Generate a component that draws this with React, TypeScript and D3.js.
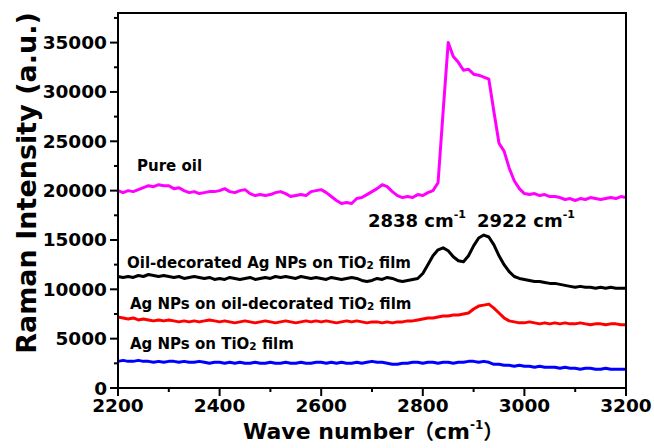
import React from "react";
import * as d3 from "d3";

// Wavenumber sampling grid (cm^-1)
const WAVENUMBERS: number[] = d3.range(2200, 3201, 10);

// Series values (a.u.), one per wavenumber
const PURE_OIL: number[] = [
  20000, 19800, 20000, 19900, 20100, 20300, 20500, 20400, 20600, 20500,
  20500, 20200, 20300, 20000, 19800, 19900, 19700, 19800, 19900, 19900,
  20000, 20200, 19900, 19800, 20000, 20100, 19700, 19500, 19600, 19500,
  19600, 19800, 19900, 19700, 19400, 19500, 19600, 19500, 19900, 20000,
  20100, 19800, 19400, 19000, 18700, 18800, 18700, 19200, 19300, 19600,
  19900, 20200, 20600, 20400, 19900, 19500, 19300, 19400, 19300, 19600,
  19500, 19800, 20000, 20800, 28000, 35000, 33600, 33000, 32200, 32300,
  31800, 31700, 31500, 31300, 28000, 24800, 24000, 22300, 21000, 20200,
  19700, 19600, 19700, 19500, 19600, 19400, 19400, 19300, 19100, 19200,
  19000, 19200, 19100, 19300, 19200, 19100, 19200, 19300, 19200, 19400,
  19300,
];

const OIL_AG_ON_TIO2: number[] = [
  11300, 11200, 11300, 11200, 11400, 11300, 11500, 11400, 11300, 11400,
  11300, 11200, 11300, 11100, 11200, 11300, 11200, 11100, 11200, 11000,
  11100, 11000, 11200, 11100, 11000, 11100, 11200, 11000, 11100, 11200,
  11100, 11300, 11200, 11300, 11200, 11100, 11300, 11200, 11100, 11200,
  11100, 11000, 11200, 11100, 11000, 11100, 11200, 11100, 10900, 10800,
  10900, 11100, 11000, 11200, 11100, 10900, 10800, 10900, 11000, 11100,
  11600, 12500, 13400, 14000, 14200, 13900, 13300, 12900, 12800, 13400,
  14400, 15200, 15500, 15300, 14500, 13400, 12500, 11800, 11300, 11100,
  11000, 10900, 10800, 10800, 10700, 10600, 10600, 10500, 10400, 10300,
  10200, 10300, 10200, 10200, 10100, 10200, 10100, 10200, 10100, 10100,
  10100,
];

const AG_ON_OIL_TIO2: number[] = [
  7200, 7100, 7000, 7100, 6900, 7000, 6900, 6800, 6900, 6800,
  6900, 6800, 6700, 6800, 6700, 6800, 6700, 6800, 6900, 6800,
  6700, 6800, 6700, 6600, 6700, 6800, 6700, 6600, 6700, 6800,
  6700, 6600, 6700, 6800, 6700, 6600, 6700, 6800, 6700, 6800,
  6700, 6800, 6700, 6600, 6700, 6800, 6700, 6800, 6700, 6600,
  6700, 6700, 6600, 6700, 6600, 6700, 6700, 6800, 6800, 6900,
  7000, 7100, 7100, 7200, 7300, 7300, 7400, 7400, 7500, 7600,
  8000, 8300, 8400, 8500, 8100, 7600, 7100, 6800, 6700, 6600,
  6600, 6700, 6600, 6500, 6600, 6500, 6600, 6500, 6600, 6500,
  6500, 6600, 6500, 6400, 6500, 6500, 6400, 6500, 6500, 6400,
  6400,
];

const AG_ON_TIO2: number[] = [
  2700, 2800, 2700, 2700, 2800, 2700, 2700, 2600, 2700, 2600,
  2700, 2700, 2600, 2700, 2600, 2600, 2700, 2600, 2500, 2600,
  2600, 2500, 2600, 2500, 2600, 2500, 2500, 2600, 2500, 2500,
  2600, 2500, 2500, 2600, 2500, 2500, 2600, 2500, 2500, 2600,
  2600, 2500, 2600, 2500, 2600, 2500, 2500, 2600, 2500, 2600,
  2700, 2600, 2600, 2500, 2400, 2400, 2500, 2500, 2600, 2600,
  2500, 2600, 2600, 2500, 2600, 2600, 2500, 2600, 2600, 2700,
  2700, 2600, 2700, 2600, 2400, 2400, 2300, 2300, 2200, 2300,
  2200, 2200, 2100, 2200, 2100, 2100, 2100, 2000, 2100, 2000,
  2000, 1900, 2000, 2000, 1900, 1900, 2000, 1900, 1900, 1900,
  1900,
];

const X_TICKS: number[] = [2200, 2400, 2600, 2800, 3000, 3200];
const X_MINOR: number[] = [2300, 2500, 2700, 2900, 3100];
const Y_TICKS: number[] = [0, 5000, 10000, 15000, 20000, 25000, 30000, 35000];
const Y_MINOR: number[] = [2500, 7500, 12500, 17500, 22500, 27500, 32500, 37500];

const SERIES = [
  { name: "Pure oil", values: PURE_OIL, color: "#ff00ff" },
  { name: "Oil-decorated Ag NPs on TiO2 film", values: OIL_AG_ON_TIO2, color: "#000000" },
  { name: "Ag NPs on oil-decorated TiO2 film", values: AG_ON_OIL_TIO2, color: "#ff0000" },
  { name: "Ag NPs on TiO2 film", values: AG_ON_TIO2, color: "#0000ff" },
];

const W = 654;
const H = 448;
const M = { left: 118, right: 28, top: 13, bottom: 60 };
const FONT = "'DejaVu Sans', Verdana, sans-serif";
const CJK = "'Noto Sans CJK SC', sans-serif";

export default function App() {
  const x = d3.scaleLinear().domain([2200, 3200]).range([M.left, W - M.right]);
  const y = d3.scaleLinear().domain([0, 38000]).range([H - M.bottom, M.top]);
  const line = d3
    .line<number>()
    .x((_, i) => x(WAVENUMBERS[i]))
    .y((d) => y(d));

  const x0 = M.left;
  const x1 = W - M.right;
  const y0 = H - M.bottom;
  const y1 = M.top;

  const tiLabel = (pre: string, post: string) => (
    <>
      {pre}
      <tspan fontSize="10.5" dy="1">2</tspan>
      <tspan dy="-1">{post}</tspan>
    </>
  );

  return (
    <svg
      width={W}
      height={H}
      style={{ position: "absolute", left: 0, top: 0, background: "#fff" }}
      fontFamily={FONT}
      fontWeight="bold"
    >
      <rect x={0} y={0} width={W} height={H} fill="#fff" />
      {SERIES.map((s) => (
        <path
          key={s.name}
          d={line(s.values) || ""}
          fill="none"
          stroke={s.color}
          strokeWidth={3}
          strokeLinejoin="round"
        />
      ))}
      <rect x={x0} y={y1} width={x1 - x0} height={y0 - y1} fill="none" stroke="#000" strokeWidth={2} />
      {X_TICKS.map((t) => (
        <g key={"xt" + t}>
          <line x1={x(t)} x2={x(t)} y1={y0} y2={y0 + 8} stroke="#000" strokeWidth={2} />
          <text x={x(t)} y={y0 + 24} fontSize={18.5} textAnchor="middle" fill="#000">
            {t}
          </text>
        </g>
      ))}
      {X_MINOR.map((t) => (
        <line key={"xm" + t} x1={x(t)} x2={x(t)} y1={y0} y2={y0 + 4} stroke="#000" strokeWidth={2} />
      ))}
      {Y_TICKS.map((t) => (
        <g key={"yt" + t}>
          <line x1={x0 - 8} x2={x0} y1={y(t)} y2={y(t)} stroke="#000" strokeWidth={2} />
          <text x={x0 - 11} y={y(t) + 6.5} fontSize={18.5} textAnchor="end" fill="#000">
            {t}
          </text>
        </g>
      ))}
      {Y_MINOR.map((t) => (
        <line key={"ym" + t} x1={x0 - 4} x2={x0} y1={y(t)} y2={y(t)} stroke="#000" strokeWidth={2} />
      ))}
      <text x={243} y={439} fontSize={22} fill="#000">
        Wave number
        <tspan fontFamily={CJK} fontSize={20}>（</tspan>
        cm
        <tspan fontSize={12} dy={-10}>-1</tspan>
        <tspan dy={10} fontFamily={CJK} fontSize={20}>）</tspan>
      </text>
      <text transform={`translate(36, 183) rotate(-90)`} fontSize={27} textAnchor="middle" fill="#000">
        Raman Intensity (a.u.)
      </text>
      <text x={137} y={171} fontSize={15} fill="#000">Pure oil</text>
      <text x={127} y={268} fontSize={15} fill="#000">{tiLabel("Oil-decorated Ag NPs on TiO", " film")}</text>
      <text x={130} y={309} fontSize={15} fill="#000">{tiLabel("Ag NPs on oil-decorated TiO", " film")}</text>
      <text x={130} y={349} fontSize={15} fill="#000">{tiLabel("Ag NPs on TiO", " film")}</text>
      <text x={368} y={227} fontSize={18} fill="#000">
        2838 cm<tspan fontSize={11} dy={-9}>-1</tspan>
      </text>
      <text x={477} y={227} fontSize={18} fill="#000">
        2922 cm<tspan fontSize={11} dy={-9}>-1</tspan>
      </text>
    </svg>
  );
}
